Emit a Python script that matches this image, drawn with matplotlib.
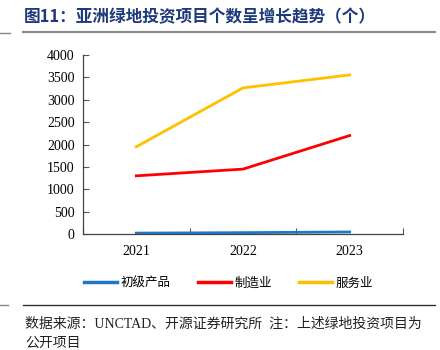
import numpy as np
import matplotlib
matplotlib.use("Agg")
from matplotlib import pyplot as plt
from matplotlib.lines import Line2D

plt.rcParams['font.family'] = ['Liberation Serif', 'Noto Sans CJK SC']

years = ['2021', '2022', '2023']
primary = [20, 30, 45]
manufacturing = [1300, 1450, 2200]
services = [1950, 3265, 3555]
yticks = [0, 500, 1000, 1500, 2000, 2500, 3000, 3500, 4000]

fig = plt.figure(figsize=(4.4, 3.5), dpi=100)
ax = fig.add_axes([83 / 440, 1 - 234 / 350, 320 / 440, 179 / 350])

x = np.arange(len(years))
ax.plot(x, primary, color='#1F77C8', lw=2, label='初级产品')
ax.plot(x, manufacturing, color='#FF0000', lw=2, label='制造业')
ax.plot(x, services, color='#FFC000', lw=2, label='服务业')

ax.set_xlim(-0.5, 2.5)
ax.set_ylim(0, 4000)
ax.set_yticks(yticks)
ax.set_xticks([-0.5, 0.5, 1.5, 2.5])
ax.set_xticklabels([])
ax.set_xticks(x, minor=True)
ax.set_xticklabels(years, minor=True)
ax.tick_params(axis='x', which='minor', length=0, pad=8, labelsize=10)
ax.tick_params(axis='x', which='major', direction='in', length=4, color='#555555')
ax.tick_params(axis='y', direction='in', length=4, labelsize=10, pad=6, color='#555555')
for s in ['top', 'right']:
    ax.spines[s].set_visible(False)
for s in ['left', 'bottom']:
    ax.spines[s].set_color('#444444')
    ax.spines[s].set_linewidth(0.9)

handles = [Line2D([], [], color=c, lw=2.5) for c in ['#1F77C8', '#FF0000', '#FFC000']]
fig.legend(handles, ['初级产品', '制造业', '服务业'], loc='center', bbox_to_anchor=(0.52, 1 - 283 / 350),
           ncol=3, frameon=False, handlelength=2.6, columnspacing=2.2, handletextpad=0.3,
           prop={'family': 'Noto Sans CJK SC', 'size': 9})

# 标题
fig.text(24 / 440, 1 - 17 / 350, '图11：亚洲绿地投资项目个数呈增长趋势（个）', color='#1F3A7A',
         fontsize=12, fontweight='bold', va='center', family=['Noto Sans CJK SC'])
fig.add_artist(Line2D([23 / 440, 435 / 440], [1 - 32 / 350, 1 - 32 / 350], color='#888888', lw=1.5))
fig.add_artist(Line2D([0, 10 / 440], [1 - 33 / 350, 1 - 33 / 350], color='#888888', lw=1))

# 来源
fig.add_artist(Line2D([23 / 440, 435 / 440], [1 - 305 / 350, 1 - 305 / 350], color='#333333', lw=1))
fig.add_artist(Line2D([0, 8 / 440], [1 - 305 / 350, 1 - 305 / 350], color='#888888', lw=1))
fig.text(25 / 440, 1 - 324 / 350, '数据来源：UNCTAD、开源证券研究所  注：上述绿地投资项目为',
         fontsize=10, va='center', color='#222222')
fig.text(25 / 440, 1 - 343 / 350, '公开项目', fontsize=10, va='center', color='#222222')

fig.savefig('out.png', dpi=100)
